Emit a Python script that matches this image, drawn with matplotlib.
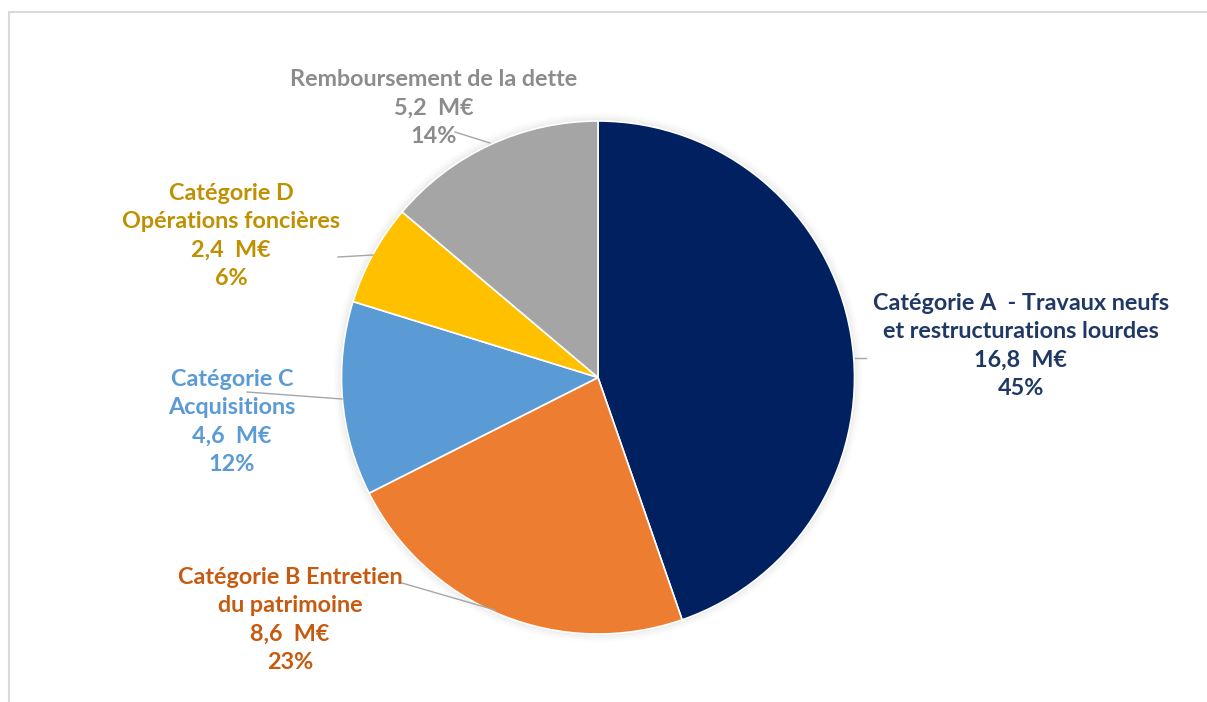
import matplotlib.pyplot as plt
from matplotlib.patches import Rectangle

labels = ['Catégorie A  - Travaux neufs\net restructurations lourdes',
          'Catégorie B Entretien\ndu patrimoine',
          'Catégorie C\nAcquisitions',
          'Catégorie D\nOpérations foncières',
          'Remboursement de la dette']
values = [16.8, 8.6, 4.6, 2.4, 5.2]
values_txt = ['16,8', '8,6', '4,6', '2,4', '5,2']
percents = ['45%', '23%', '12%', '6%', '14%']
colors = ['#002060', '#ED7D31', '#5B9BD5', '#FFC000', '#A5A5A5']
text_colors = ['#1F3864', '#C55A11', '#5B9BD5', '#BF9000', '#8C8C8C']

# label centres and leader lines in pixel coords (y from top)
label_pos = [(1021, 346), (290, 620), (232, 422), (231, 236), (434, 108)]
leaders = [((855, 358), (866, 358)),
           ((495, 610), (402, 583)),
           ((342, 399), (247, 392)),
           ((373, 255), (338, 257)),
           ((490, 143), (455, 132))]

W, H = 1207, 702
fig = plt.figure(figsize=(W / 100, H / 100), dpi=100)
ax = fig.add_axes([0, 0, 1, 1])

# frame
ax.add_patch(Rectangle((9, -20), W + 20, H - 12 + 20, fill=False,
                       edgecolor='#D9D9D9', linewidth=1.5))

cx, cy, r = 598, H - 377.5, 256.5
# soft shadow
for i, a in enumerate([0.025, 0.02, 0.015, 0.01]):
    ax.add_patch(plt.Circle((cx, cy), r + 2 + 2 * i, color='black', alpha=a, lw=0))

ax.pie(values, colors=colors, startangle=90, counterclock=False,
       center=(cx, cy), radius=r, frame=True,
       wedgeprops=dict(edgecolor='white', linewidth=1.2))
ax.set_xlim(0, W)
ax.set_ylim(0, H)
ax.set_aspect('equal')
ax.axis('off')

for (p0, p1) in leaders:
    ax.plot([p0[0], p1[0]], [H - p0[1], H - p1[1]], color='#A6A6A6', lw=1)

for lab, v, p, c, (x, y) in zip(labels, values_txt, percents, text_colors, label_pos):
    ax.text(x, H - y, f'{lab}\n{v}  M€\n{p}', ha='center', va='center',
            color=c, fontsize=16.8, fontweight='bold', family='Lato',
            linespacing=1.42)

fig.savefig('out.png', dpi=100)
